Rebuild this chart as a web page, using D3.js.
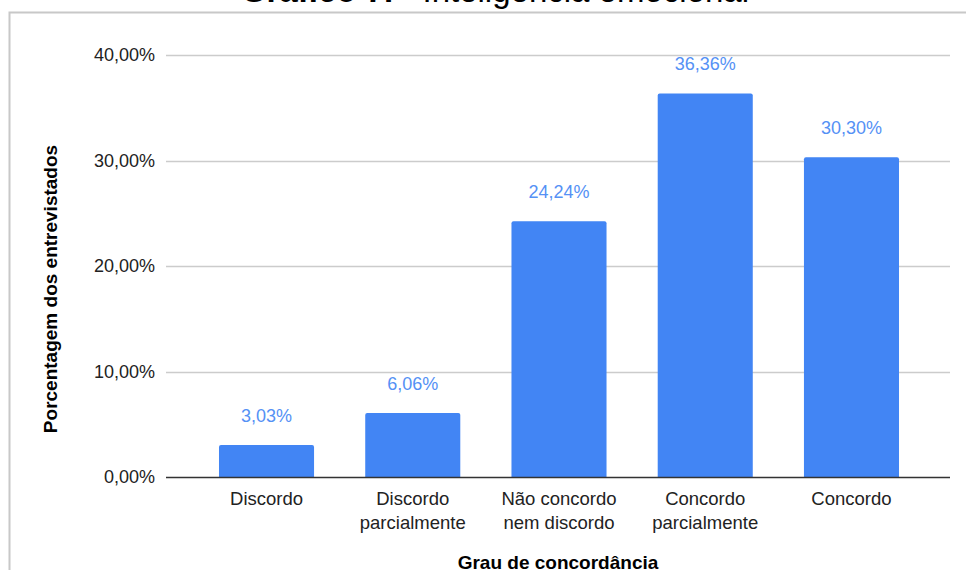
<!DOCTYPE html>
<html>
<head>
<meta charset="utf-8">
<script src="https://cdn.jsdelivr.net/npm/d3@7"></script>
<style>
  html, body { margin: 0; padding: 0; background: #fff; }
  svg { display: block; font-family: "Liberation Sans", Arial, sans-serif; }
</style>
</head>
<body>
<svg id="chart" width="966" height="570"></svg>
<script>
// Agreement levels and share of respondents (%)
const categories = [
  ["Discordo"],
  ["Discordo", "parcialmente"],
  ["Não concordo", "nem discordo"],
  ["Concordo", "parcialmente"],
  ["Concordo"]
];
const values = [3.03, 6.06, 24.24, 36.36, 30.30];
const yTicks = [0, 10, 20, 30, 40];

const svg = d3.select("#chart");
const fmt = v => d3.format(".2f")(v).replace(".", ",") + "%";

// Outer frame
svg.append("rect")
  .attr("x", 9.5).attr("y", 12.5)
  .attr("width", 1000).attr("height", 1000)
  .attr("fill", "none").attr("stroke", "#c8c8c8").attr("stroke-width", 2);

// Title (partly above the frame)
const title = svg.append("text")
  .attr("x", 495).attr("y", 2)
  .attr("text-anchor", "middle")
  .attr("font-size", 33).attr("fill", "#000");
title.append("tspan").attr("font-weight", "bold").text("Gráfico 7.");
title.append("tspan").text(" - Inteligência emocional");

const gridLeft = 166, gridRight = 950;
const y = d3.scaleLinear().domain([0, 40]).range([477, 55]);
const x = d3.scaleBand()
  .domain(d3.range(categories.length))
  .range([193.4, 924.6])
  .paddingInner(0.35)
  .paddingOuter(0.175);

// Gridlines
svg.append("g").selectAll("line")
  .data(yTicks.filter(t => t !== 0))
  .join("line")
  .attr("x1", gridLeft).attr("x2", gridRight)
  .attr("y1", d => Math.round(y(d)) + 0.5).attr("y2", d => Math.round(y(d)) + 0.5)
  .attr("stroke", "#cccccc").attr("stroke-width", 1.5);

// Y axis labels
svg.append("g").selectAll("text")
  .data(yTicks)
  .join("text")
  .attr("x", 155).attr("y", d => y(d))
  .attr("dy", "0.36em")
  .attr("text-anchor", "end")
  .attr("font-size", 18).attr("fill", "#222")
  .text(d => fmt(d));

// Bars
svg.append("g").selectAll("path")
  .data(values)
  .join("path")
  .attr("fill", "#4285f4")
  .attr("d", (d, i) => {
    const x0 = x(i), w = x.bandwidth(), y0 = y(d), y1 = y(0), r = 2;
    return `M${x0},${y1}V${y0 + r}Q${x0},${y0} ${x0 + r},${y0}H${x0 + w - r}Q${x0 + w},${y0} ${x0 + w},${y0 + r}V${y1}Z`;
  });

// Value labels
svg.append("g").selectAll("text")
  .data(values)
  .join("text")
  .attr("x", (d, i) => x(i) + x.bandwidth() / 2)
  .attr("y", d => y(d) - 23)
  .attr("text-anchor", "middle")
  .attr("font-size", 18).attr("fill", "#5591f5")
  .text(d => fmt(d));

// Baseline
svg.append("line")
  .attr("x1", gridLeft).attr("x2", gridRight)
  .attr("y1", y(0) + 0.5).attr("y2", y(0) + 0.5)
  .attr("stroke", "#333").attr("stroke-width", 1.5);

// Category labels
const xl = svg.append("g").selectAll("text")
  .data(categories)
  .join("text")
  .attr("x", (d, i) => x(i) + x.bandwidth() / 2)
  .attr("y", 505)
  .attr("text-anchor", "middle")
  .attr("font-size", 18.5).attr("fill", "#222");
xl.selectAll("tspan")
  .data(d => d)
  .join("tspan")
  .attr("x", function() { return this.parentNode.getAttribute("x"); })
  .attr("dy", (d, j) => j === 0 ? 0 : 24)
  .text(d => d);

// Axis titles
svg.append("text")
  .attr("x", 558).attr("y", 569)
  .attr("text-anchor", "middle")
  .attr("font-size", 19).attr("font-weight", "bold").attr("fill", "#000")
  .text("Grau de concordância");

svg.append("text")
  .attr("transform", "translate(57,289) rotate(-90)")
  .attr("text-anchor", "middle")
  .attr("font-size", 19).attr("font-weight", "bold").attr("fill", "#000")
  .text("Porcentagem dos entrevistados");
</script>
</body>
</html>
